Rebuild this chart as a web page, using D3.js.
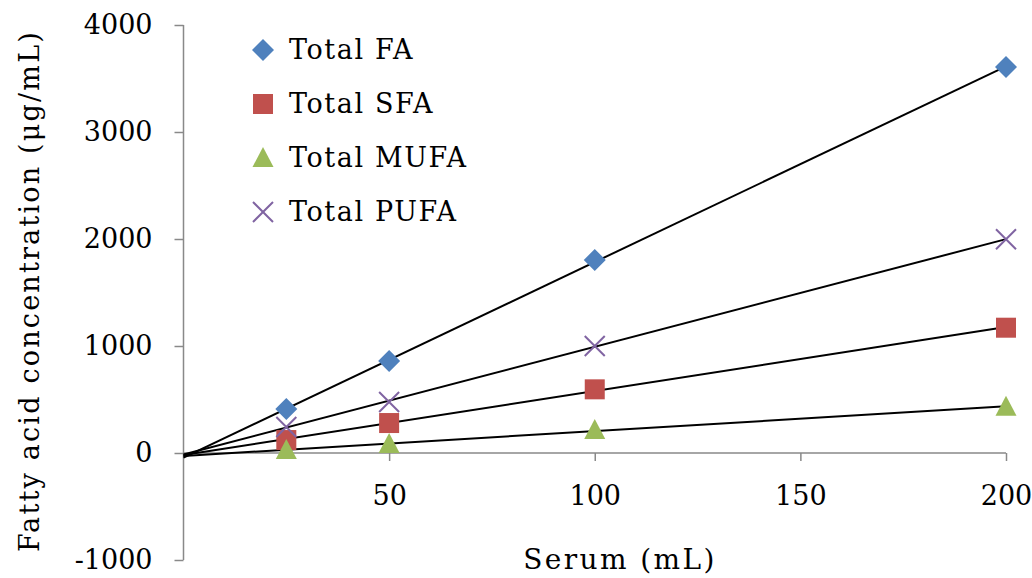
<!DOCTYPE html>
<html>
<head>
<meta charset="utf-8">
<script src="https://cdn.jsdelivr.net/npm/d3@7"></script>
<style>
  html, body { margin: 0; padding: 0; background: #fff; }
  svg { display: block; }
  text { font-family: "DejaVu Serif", "Liberation Serif", serif; fill: #000; }
</style>
</head>
<body>
<svg id="chart" width="1032" height="578"></svg>
<script>
// Serum volumes (mL)
const volumes = [25, 50, 100, 200];

// Fatty acid concentrations (µg/mL) per series
const totalFA   = [411, 860, 1804, 3607];
const totalSFA  = [121, 280, 595, 1171];
const totalMUFA = [28, 84, 215, 433];
const totalPUFA = [243, 477, 1000, 1997];

const seriesNames = ["Total FA", "Total SFA", "Total MUFA", "Total PUFA"];
const seriesValues = [totalFA, totalSFA, totalMUFA, totalPUFA];
const seriesColors = ["#4F81BD", "#C0504D", "#9BBB59", "#8064A2"];
const seriesShapes = ["diamond", "square", "triangle", "cross"];

const xTicks = [50, 100, 150, 200];
const yTicks = [-1000, 0, 1000, 2000, 3000, 4000];

const svg = d3.select("#chart");

const x = d3.scaleLinear().domain([0, 200]).range([183.5, 1006]);
const y = d3.scaleLinear().domain([-1000, 4000]).range([560, 25]);

const axisColor = "#898989";

// Y axis
const yAxis = svg.append("g")
  .attr("transform", `translate(${x(0)},0)`)
  .call(d3.axisLeft(y).tickValues(yTicks).tickSize(9).tickPadding(22).tickFormat(d => String(d)));
yAxis.select(".domain").attr("stroke", axisColor).attr("stroke-width", 1.5).attr("d", `M0,${y(-1000)}V${y(4000)}`);
yAxis.selectAll(".tick line").attr("stroke", axisColor).attr("stroke-width", 1.5);
yAxis.selectAll(".tick text").style("font-size", "27px").attr("fill", "#000")
  .attr("font-family", null);

// X axis along zero
const xAxis = svg.append("g")
  .attr("transform", `translate(0,${y(0)})`)
  .call(d3.axisBottom(x).tickValues(xTicks).tickSize(8).tickPadding(25).tickFormat(d => String(d)));
xAxis.select(".domain").attr("stroke", axisColor).attr("stroke-width", 1.5).attr("d", `M${x(0)},0H${x(200)}`);
xAxis.selectAll(".tick line").attr("stroke", axisColor).attr("stroke-width", 1.5);
xAxis.selectAll(".tick text").style("font-size", "27px").attr("fill", "#000")
  .attr("font-family", null);

// Least-squares trendlines, extended back to x = 0
function linearFit(xs, ys) {
  const mx = d3.mean(xs), my = d3.mean(ys);
  let sxy = 0, sxx = 0;
  xs.forEach((v, i) => { sxy += (v - mx) * (ys[i] - my); sxx += (v - mx) ** 2; });
  const slope = sxy / sxx;
  return { slope, intercept: my - slope * mx };
}

const trendGroup = svg.append("g");
seriesValues.forEach(vals => {
  const fit = linearFit(volumes, vals);
  const ends = [0, 200].map(v => [v, fit.intercept + fit.slope * v]);
  trendGroup.append("path")
    .attr("d", d3.line().x(d => x(d[0])).y(d => y(d[1]))(ends))
    .attr("stroke", "#000").attr("stroke-width", 2).attr("fill", "none");
});

// Marker drawing
function drawMarker(g, shape, color, cx, cy) {
  if (shape === "diamond") {
    g.append("path").attr("d", `M${cx},${cy - 11}L${cx + 11},${cy}L${cx},${cy + 11}L${cx - 11},${cy}Z`)
      .attr("fill", color);
  } else if (shape === "square") {
    g.append("rect").attr("x", cx - 10).attr("y", cy - 10).attr("width", 20).attr("height", 20)
      .attr("fill", color);
  } else if (shape === "triangle") {
    g.append("path").attr("d", `M${cx},${cy - 11}L${cx + 10.5},${cy + 9}L${cx - 10.5},${cy + 9}Z`)
      .attr("fill", color);
  } else {
    g.append("path").attr("d", `M${cx - 10},${cy - 10}L${cx + 10},${cy + 10}M${cx + 10},${cy - 10}L${cx - 10},${cy + 10}`)
      .attr("stroke", color).attr("stroke-width", 2).attr("fill", "none");
  }
}

const markerGroup = svg.append("g");
seriesValues.forEach((vals, si) => {
  vals.forEach((v, i) => {
    drawMarker(markerGroup, seriesShapes[si], seriesColors[si], x(volumes[i]), y(v));
  });
});

// Legend
const legend = svg.append("g");
const legendTop = 50, legendStep = 54;
seriesNames.forEach((name, i) => {
  const cy = legendTop + i * legendStep;
  drawMarker(legend, seriesShapes[i], seriesColors[i], 263, cy);
  legend.append("text").attr("x", 289).attr("y", cy).attr("dy", "0.35em")
    .style("font-size", "27px").style("letter-spacing", "1.6px").text(name);
});

// Axis titles
svg.append("text")
  .attr("x", 620).attr("y", 569)
  .attr("text-anchor", "middle")
  .style("font-size", "28px").style("letter-spacing", "2.4px")
  .text("Serum (mL)");

svg.append("text")
  .attr("transform", `translate(39,291) rotate(-90)`)
  .attr("text-anchor", "middle")
  .style("font-size", "27px").style("letter-spacing", "2.2px")
  .text("Fatty acid concentration (μg/mL)");
</script>
</body>
</html>
